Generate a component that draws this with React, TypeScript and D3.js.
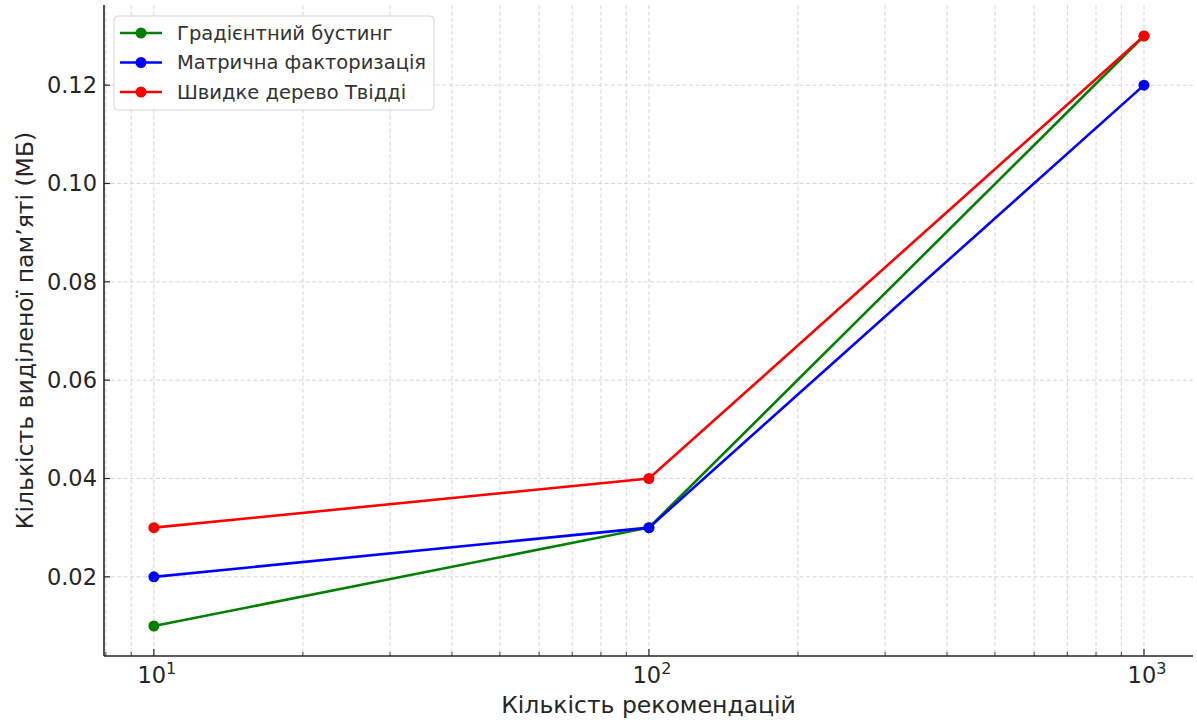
import React, { useEffect, useRef } from "react";
import * as d3 from "d3";

// recommendation counts and memory (MB)
const counts = [10, 100, 1000];
const gradientBoosting = [0.01, 0.03, 0.13];
const matrixFactorization = [0.02, 0.03, 0.12];
const fastTweedie = [0.03, 0.04, 0.13];
const seriesNames = ["Градієнтний бустинг", "Матрична факторизація", "Швидке дерево Твідді"];
const seriesColors = ["green", "blue", "red"];
const yTicks = [0.02, 0.04, 0.06, 0.08, 0.1, 0.12];
const xMajor = [10, 100, 1000];

const App = () => {
  const ref = useRef<SVGSVGElement>(null);

  useEffect(() => {
    const svg = d3.select(ref.current);
    svg.selectAll("*").remove();

    const W = 1197, H = 720;
    const margin = { top: 5, right: 4, bottom: 64, left: 104 };
    const width = W - margin.left - margin.right;
    const height = H - margin.top - margin.bottom;
    const font = "DejaVu Sans, sans-serif";

    const x = d3.scaleLog().domain([7.93, 1256]).range([0, width]);
    const y = d3.scaleLinear().domain([0.0039, 0.1363]).range([height, 0]);

    const g = svg.append("g").attr("transform", `translate(${margin.left},${margin.top})`);

    // minor + major x ticks
    const xMinor: number[] = [];
    for (let d = 0; d <= 3; d++) {
      for (let m = 1; m <= 9; m++) {
        const v = m * Math.pow(10, d);
        if (v >= 7.93 && v <= 1256) xMinor.push(v);
      }
    }

    // grid
    g.selectAll(".vgrid").data(xMinor).enter().append("line")
      .attr("x1", (d) => x(d)).attr("x2", (d) => x(d))
      .attr("y1", 0).attr("y2", height)
      .attr("stroke", "#cccccc").attr("stroke-width", 0.8).attr("stroke-dasharray", "4,2.5");
    g.selectAll(".hgrid").data(yTicks).enter().append("line")
      .attr("x1", 0).attr("x2", width)
      .attr("y1", (d) => y(d)).attr("y2", (d) => y(d))
      .attr("stroke", "#cccccc").attr("stroke-width", 0.8).attr("stroke-dasharray", "4,2.5");

    // spines
    g.append("line").attr("x1", 0).attr("x2", 0).attr("y1", 0).attr("y2", height)
      .attr("stroke", "#262626").attr("stroke-width", 1.6);
    g.append("line").attr("x1", 0).attr("x2", width).attr("y1", height).attr("y2", height)
      .attr("stroke", "#262626").attr("stroke-width", 1.6);

    // x ticks (inward)
    g.selectAll(".xt").data(xMinor).enter().append("line")
      .attr("x1", (d) => x(d)).attr("x2", (d) => x(d))
      .attr("y1", height).attr("y2", (d) => height - (xMajor.includes(d) ? 7 : 4))
      .attr("stroke", "#262626").attr("stroke-width", (d) => (xMajor.includes(d) ? 1.2 : 0.9));

    xMajor.forEach((v) => {
      const t = g.append("text")
        .attr("x", x(v) + 3).attr("y", height + 27)
        .attr("text-anchor", "middle")
        .attr("font-family", font).attr("font-size", 22.5).attr("fill", "#262626");
      t.append("tspan").text("10");
      t.append("tspan").attr("dy", -9).attr("font-size", 16).text(String(Math.round(Math.log10(v))));
    });

    // y ticks
    g.selectAll(".yt").data(yTicks).enter().append("line")
      .attr("x1", 0).attr("x2", 6)
      .attr("y1", (d) => y(d)).attr("y2", (d) => y(d))
      .attr("stroke", "#262626").attr("stroke-width", 1.2);
    g.selectAll(".yl").data(yTicks).enter().append("text")
      .attr("x", -7).attr("y", (d) => y(d)).attr("dy", "0.35em")
      .attr("text-anchor", "end")
      .attr("font-family", font).attr("font-size", 22.5).attr("fill", "#262626")
      .text((d) => d.toFixed(2));

    // axis labels
    g.append("text")
      .attr("x", width / 2).attr("y", height + 57)
      .attr("text-anchor", "middle")
      .attr("font-family", font).attr("font-size", 23.5).attr("fill", "#262626")
      .text("Кількість рекомендацій");
    g.append("text")
      .attr("transform", `translate(${-71},${height / 2}) rotate(-90)`)
      .attr("text-anchor", "middle")
      .attr("font-family", font).attr("font-size", 23.5).attr("fill", "#262626")
      .text("Кількість виділеної пам’яті (МБ)");

    // lines
    const allSeries = [gradientBoosting, matrixFactorization, fastTweedie];
    const line = d3.line<number>().x((_, i) => x(counts[i])).y((d) => y(d));
    allSeries.forEach((vals, si) => {
      g.append("path").datum(vals)
        .attr("d", line).attr("fill", "none")
        .attr("stroke", seriesColors[si]).attr("stroke-width", 2.6);
      g.selectAll(`.pt${si}`).data(vals).enter().append("circle")
        .attr("cx", (_, i) => x(counts[i])).attr("cy", (d) => y(d))
        .attr("r", 5.5).attr("fill", seriesColors[si]);
    });

    // legend
    const lg = g.append("g").attr("transform", `translate(${114 - margin.left},${16 - margin.top})`);
    lg.append("rect").attr("width", 320).attr("height", 94).attr("rx", 4)
      .attr("fill", "white").attr("fill-opacity", 0.85)
      .attr("stroke", "#d5d5d5").attr("stroke-width", 1);
    seriesNames.forEach((name, i) => {
      const cy = 17 + i * 29.5;
      lg.append("line").attr("x1", 6).attr("x2", 48).attr("y1", cy).attr("y2", cy)
        .attr("stroke", seriesColors[i]).attr("stroke-width", 2.6);
      lg.append("circle").attr("cx", 27).attr("cy", cy).attr("r", 5.5).attr("fill", seriesColors[i]);
      lg.append("text").attr("x", 63).attr("y", cy).attr("dy", "0.35em")
        .attr("font-family", font).attr("font-size", 19.5).attr("fill", "#333333")
        .text(name);
    });
  }, []);

  return <svg ref={ref} width={1197} height={720} style={{ display: "block", position: "absolute", left: 0, top: 0 }} />;
};

export default App;
